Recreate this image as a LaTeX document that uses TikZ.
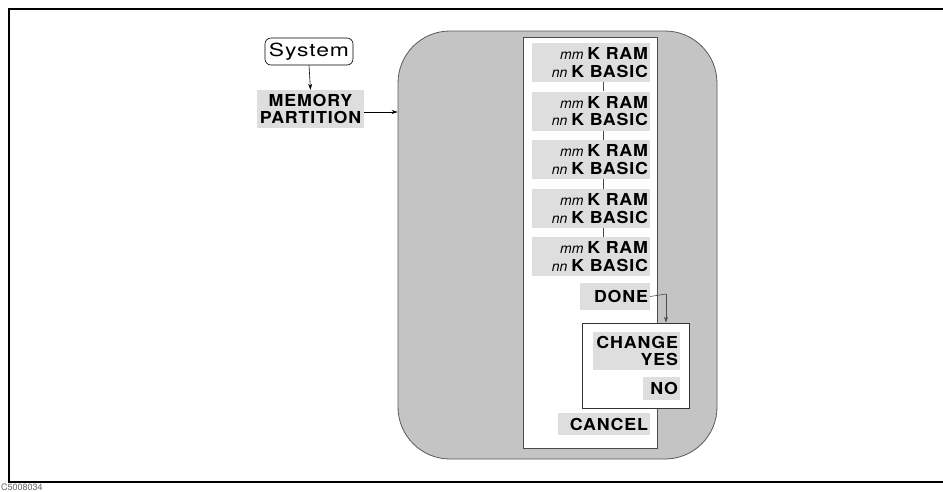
\documentclass[tikz,border=0pt]{standalone}
\usepackage{fontspec}
\setmainfont{TeX Gyre Heros}
\newfontfamily\lblfont[LetterSpace=5,FakeStretch=1.08]{TeX Gyre Heros}
\newfontfamily\sysfont[LetterSpace=5,FakeStretch=1.27]{TeX Gyre Heros}
\newfontfamily\varfont{TeX Gyre Heros}
\usetikzlibrary{arrows.meta}
\newcommand{\vr}[1]{{\varfont\fontsize{14}{17.7}\selectfont\mdseries\itshape #1}\hspace{4pt}}
\newcommand{\ramrow}{\vr{mm}K RAM\\\vr{nn}K BASIC}
\begin{document}
\begin{tikzpicture}[x=1pt,y=-1pt,
  lab/.style={fill=black!13, inner xsep=2pt, inner ysep=0pt, align=right,
    font=\lblfont\bfseries\fontsize{16.5}{17.7}\selectfont},
  conn/.style={line width=0.6pt, black!70},
  arr/.style={line width=0.6pt, -{Stealth[length=6pt,width=4pt]}}]
\useasboundingbox (0,0) rectangle (943,491);
% outer frame
\draw[line width=2pt] (950,9) -- (9,9) -- (9,482) -- (950,482);
\node[anchor=north west, inner sep=0pt, text=black!60, font=\fontsize{9}{9}\selectfont] (cap) at (1,484) {C5008034};
% big rounded box
\node[draw=black!65, line width=0.8pt, fill=black!23, rounded corners=52pt,
  minimum width=319pt, minimum height=428pt, inner sep=0pt] (big) at (557.5,245) {};
% white panel
\node[draw=black!70, line width=0.8pt, fill=white, minimum width=134pt,
  minimum height=411pt, inner sep=0pt] (panel) at (590,242.5) {};
% rows
\foreach \i/\y in {1/62.5,2/111.1,3/159.7,4/208.3,5/256.9}{
  \node[lab, text width=114pt, minimum height=39pt] (r\i) at (591,\y) {\ramrow};
}
\foreach \a/\b in {1/2,2/3,3/4,4/5}{
  \draw[conn] ([xshift=12pt]r\a.south) -- ([xshift=12pt]r\b.north);
}
\node[lab, text width=66pt, minimum height=27pt] (done) at (615,296.5) {DONE};
\node[draw=black!80, line width=0.8pt, fill=white, minimum width=107pt,
  minimum height=85pt, inner sep=0pt] (chbox) at (635.5,365.5) {};
\node[lab, text width=83pt, minimum height=38pt] (chg) at (636.5,351) {CHANGE\\YES};
\node[lab, text width=33pt, minimum height=23pt] (no) at (661.5,388.5) {NO};
\node[lab, text width=88pt, minimum height=22pt] (cancel) at (604,424) {CANCEL};
\coordinate (dk) at (666,294);
\draw[conn] (done.east) -- (dk);
\draw[arr, black!70] (dk) -- (dk |- chbox.north);
% left side
\node[draw, line width=0.6pt, rounded corners=6pt, minimum width=88pt,
  minimum height=27pt, inner sep=0pt, font=\sysfont\fontsize{18}{18}\selectfont] (sys) at (309,51.5) {System};
\node[lab, align=center, text width=103pt, minimum height=38pt] (mem) at (310.5,109) {MEMORY\\PARTITION};
\draw[arr] (sys.south) -- (mem.north);
\draw[arr] ([yshift=-3pt]mem.east) -- ([yshift=-3pt]mem.east -| big.west);
\end{tikzpicture}
\end{document}
